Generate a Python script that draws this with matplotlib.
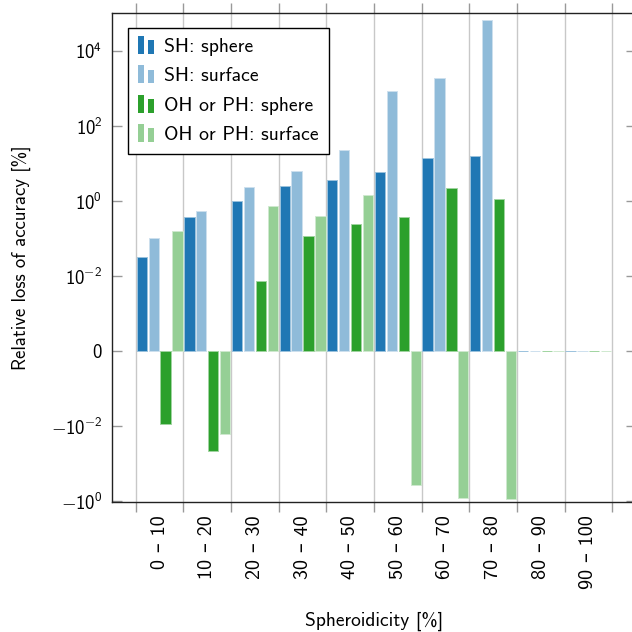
import numpy as np
import matplotlib
matplotlib.use('Agg')
import matplotlib.pyplot as plt
from matplotlib.patches import Rectangle
from matplotlib.legend_handler import HandlerBase

plt.rcParams['font.family'] = ['cmss10', 'DejaVu Sans']
plt.rcParams['mathtext.fontset'] = 'custom'
plt.rcParams['mathtext.rm'] = 'cmss10'
plt.rcParams['axes.unicode_minus'] = False
plt.rcParams['axes.formatter.use_mathtext'] = True

# data (values in %)
categories = ['0 – 10', '10 – 20', '20 – 30', '30 – 40', '40 – 50',
              '50 – 60', '60 – 70', '70 – 80', '80 – 90', '90 – 100']
sh_sphere = [0.0316, 0.374, 1.0, 2.51, 3.7, 5.8, 14.0, 15.5, 0, 0]
sh_surface = [0.101, 0.53, 2.41, 6.4, 22.9, 858, 1870, 67000, 0, 0]
oh_sphere = [-0.0097, -0.0464, 0.0093, 0.117, 0.249, 0.367, 2.18, 1.11, 0, 0]
oh_surface = [0.155, -0.0167, 0.736, 0.398, 1.47, -0.382, -0.817, -0.87, 0, 0]

series = [
    ('SH: sphere', sh_sphere, '#1f77b4'),
    ('SH: surface', sh_surface, '#8fbbd9'),
    ('OH or PH: sphere', oh_sphere, '#2ca02c'),
    ('OH or PH: surface', oh_surface, '#95cf95'),
]

ytick_vals = [-1, -0.01, 0, 0.01, 1, 100, 1e4]
ytick_labels = [r'$-10^{0}$', r'$-10^{-2}$', r'$0$', r'$10^{-2}$',
                r'$10^{0}$', r'$10^{2}$', r'$10^{4}$']


def lighten(c, f=0.55):
    rgb = np.array(matplotlib.colors.to_rgb(c))
    return tuple(rgb + (1 - rgb) * f)


class TwoBars(HandlerBase):
    def create_artists(self, legend, orig, xd, yd, w, h, fs, trans):
        fc = orig.get_facecolor()
        bw = w * 0.3
        r1 = Rectangle((xd + w * 0.02, yd - h * 0.12), bw, h * 1.3,
                       facecolor=fc, edgecolor='none', transform=trans)
        r2 = Rectangle((xd + w * 0.02 + bw * 1.5, yd - h * 0.12), bw, h * 0.98,
                       facecolor=fc, edgecolor='none', transform=trans)
        return [r1, r2]


fig = plt.figure(figsize=(6.32, 6.32), dpi=100)
ax = fig.add_axes([112 / 632, 130 / 632, 524 / 632, 489 / 632])

x = np.arange(len(categories))
slot = 0.25
handles, names = [], []
for k, (name, vals, col) in enumerate(series):
    off = (k - 1.5) * slot
    b = ax.bar(x + off, vals, width=slot * 0.86, color=col,
               edgecolor=lighten(col), linewidth=0.7, zorder=3)
    handles.append(b[0])
    names.append(name)

ax.set_yscale('symlog', linthresh=0.01, linscale=1.8)
ax.set_ylim(-1.06, 1.03e5)
ax.set_yticks(ytick_vals)
ax.set_yticklabels(ytick_labels)
ax.yaxis.set_minor_locator(matplotlib.ticker.NullLocator())

ax.set_xlim(-1, 10)
ax.set_xticks(np.arange(-0.5, 10, 1.0))
ax.set_xticklabels([])
ax.set_xticks(x, minor=True)
ax.set_xticklabels(categories, minor=True, rotation=90, fontsize=14.5)
ax.grid(axis='x', which='major', color='#c8c8c8', lw=1.0, zorder=0)

ax.tick_params(axis='x', which='major', direction='out', length=7.2,
               color='#999999', top=True, width=1.0)
ax.tick_params(axis='x', which='minor', length=0, pad=9.5)
ax.tick_params(axis='y', direction='in', length=7.2, color='#999999',
               right=True, labelsize=13.5, pad=7, width=1.0)
for s in ax.spines.values():
    s.set_linewidth(1.0)
    s.set_color('#222222')

ax.set_ylabel('Relative loss of accuracy [%]', fontsize=13.5, labelpad=14)
ax.set_xlabel('Spheroidicity [%]', fontsize=14, labelpad=16)

leg = ax.legend(handles, names, handler_map={h: TwoBars() for h in handles},
                loc='upper left', bbox_to_anchor=(0.0305, 0.969),
                borderaxespad=0, fancybox=False, framealpha=1,
                edgecolor='black', fontsize=14.2, handlelength=1.05,
                handletextpad=0.3, labelspacing=0.58, borderpad=0.5)
leg.get_frame().set_linewidth(1.0)
leg.set_zorder(5)

fig.savefig('out.png', dpi=100)
plt.close(fig)
